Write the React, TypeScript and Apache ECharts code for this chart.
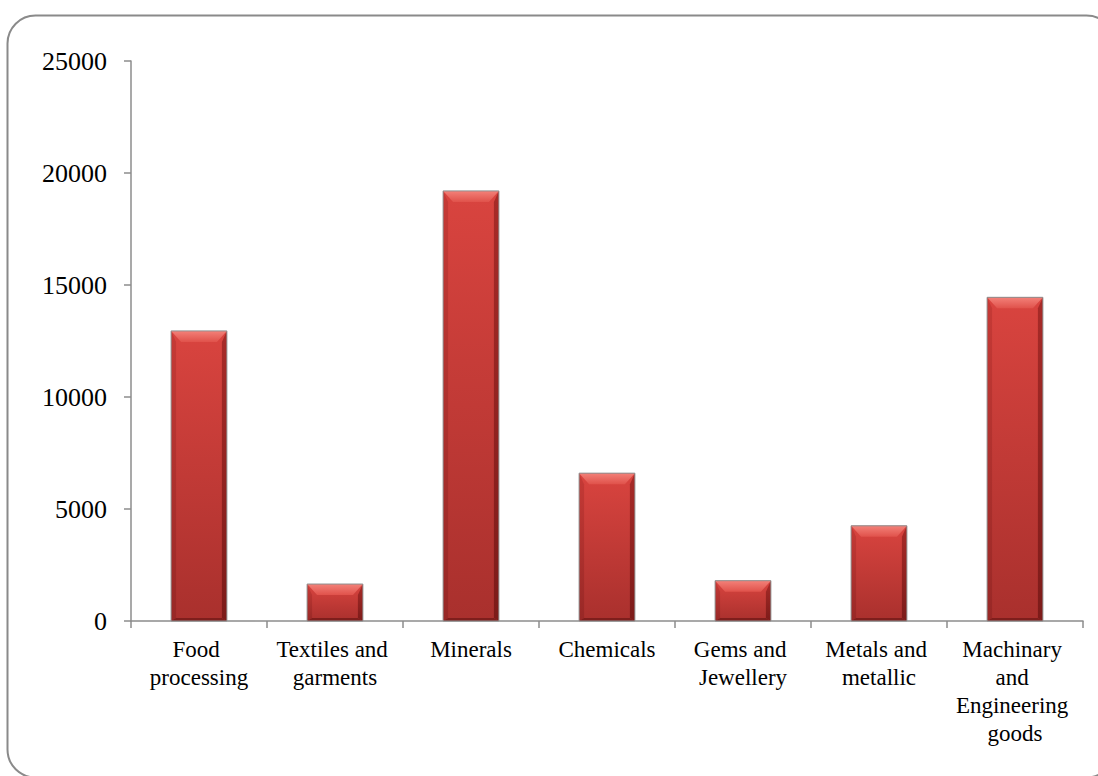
import React, { useEffect, useRef } from "react";
import * as echarts from "echarts";

// Sector names along the category axis
const categories: string[] = [
  "Food processing",
  "Textiles and garments",
  "Minerals",
  "Chemicals",
  "Gems and Jewellery",
  "Metals and metallic",
  "Machinary and Engineering goods",
];

// One value per sector
const values: number[] = [12950, 1650, 19200, 6600, 1800, 4250, 14450];

// Value-axis range and step
const yMin = 0;
const yMax = 25000;
const yStep = 5000;

const FONT = "'Liberation Serif', 'Times New Roman', serif";

export default function App() {
  const ref = useRef<HTMLDivElement>(null);

  useEffect(() => {
    if (!ref.current) return;
    const chart = echarts.init(ref.current, null, { renderer: "svg" });

    const faceFill = new echarts.graphic.LinearGradient(0, 0, 0, 1, [
      { offset: 0, color: "#d9443f" },
      { offset: 1, color: "#a9302d" },
    ]);
    const rightFill = new echarts.graphic.LinearGradient(0, 0, 0, 1, [
      { offset: 0, color: "#a82b28" },
      { offset: 1, color: "#7c1b19" },
    ]);
    const leftFill = new echarts.graphic.LinearGradient(0, 0, 0, 1, [
      { offset: 0, color: "#c63a36" },
      { offset: 1, color: "#982826" },
    ]);
    const topFill = new echarts.graphic.LinearGradient(0, 0, 0, 1, [
      { offset: 0, color: "#f38179" },
      { offset: 1, color: "#e0524b" },
    ]);

    // Bevelled bar: face, top/side/bottom bevels and a thin grey rim
    const renderBar = (params: any, api: any) => {
      const idx = api.value(0);
      const val = api.value(1);
      const top = api.coord([idx, val]);
      const base = api.coord([idx, 0]);
      const w = api.size([1, 0])[0] * 0.41;
      const x0 = top[0] - w / 2;
      const x1 = top[0] + w / 2;
      const y0 = top[1];
      const y1 = base[1];
      const h = y1 - y0;
      const bt = Math.min(11, h / 3);
      const bs = Math.min(5, h / 4);
      const bb = Math.min(3, h / 6);
      return {
        type: "group",
        children: [
          {
            type: "rect",
            shape: { x: x0, y: y0, width: w, height: h },
            style: { fill: faceFill },
          },
          {
            type: "polygon",
            shape: { points: [[x0, y0], [x0 + bs, y0 + bt], [x0 + bs, y1 - bb], [x0, y1]] },
            style: { fill: leftFill },
          },
          {
            type: "polygon",
            shape: { points: [[x1, y0], [x1, y1], [x1 - bs, y1 - bb], [x1 - bs, y0 + bt]] },
            style: { fill: rightFill },
          },
          {
            type: "polygon",
            shape: { points: [[x0, y1], [x1, y1], [x1 - bs, y1 - bb], [x0 + bs, y1 - bb]] },
            style: { fill: "#7e1e1c" },
          },
          {
            type: "polygon",
            shape: { points: [[x0, y0], [x1, y0], [x1 - bs * 2, y0 + bt], [x0 + bs * 2, y0 + bt]] },
            style: { fill: topFill },
          },
          {
            type: "rect",
            shape: { x: x0, y: y0, width: w, height: h },
            style: { fill: "none", stroke: "#8e8e8e", lineWidth: 1 },
          },
        ],
      };
    };

    chart.setOption({
      animation: false,
      backgroundColor: "#ffffff",
      textStyle: { fontFamily: FONT },
      graphic: [
        {
          type: "rect",
          silent: true,
          z: -1,
          shape: { x: 7.5, y: 15.5, width: 1107, height: 762, r: 28 },
          style: { fill: "none", stroke: "#8a8a8a", lineWidth: 2 },
        },
      ],
      grid: { left: 131, right: 15, top: 61, bottom: 155 },
      xAxis: {
        type: "category",
        data: categories,
        boundaryGap: true,
        axisLine: { lineStyle: { color: "#8c8c8c", width: 1.5 } },
        axisTick: { show: true, length: 7, lineStyle: { color: "#8c8c8c", width: 1.5 } },
        axisLabel: {
          interval: 0,
          margin: 14,
          color: "#000",
          fontFamily: FONT,
          fontSize: 23,
          lineHeight: 28,
          width: 132,
          overflow: "break",
          align: "center",
        },
      },
      yAxis: {
        type: "value",
        min: yMin,
        max: yMax,
        interval: yStep,
        splitLine: { show: false },
        axisLine: { show: true, lineStyle: { color: "#8c8c8c", width: 1.5 } },
        axisTick: { show: true, length: 7, lineStyle: { color: "#8c8c8c", width: 1.5 } },
        axisLabel: {
          margin: 24,
          color: "#000",
          fontFamily: FONT,
          fontSize: 26,
          formatter: (v: number) => String(v),
        },
      },
      series: [
        {
          type: "custom",
          renderItem: renderBar,
          encode: { x: 0, y: 1 },
          data: values.map((v, i) => [i, v]),
        },
      ],
    });

    return () => chart.dispose();
  }, []);

  return (
    <div
      ref={ref}
      style={{ position: "fixed", left: 0, top: 0, width: 1098, height: 776 }}
    />
  );
}
